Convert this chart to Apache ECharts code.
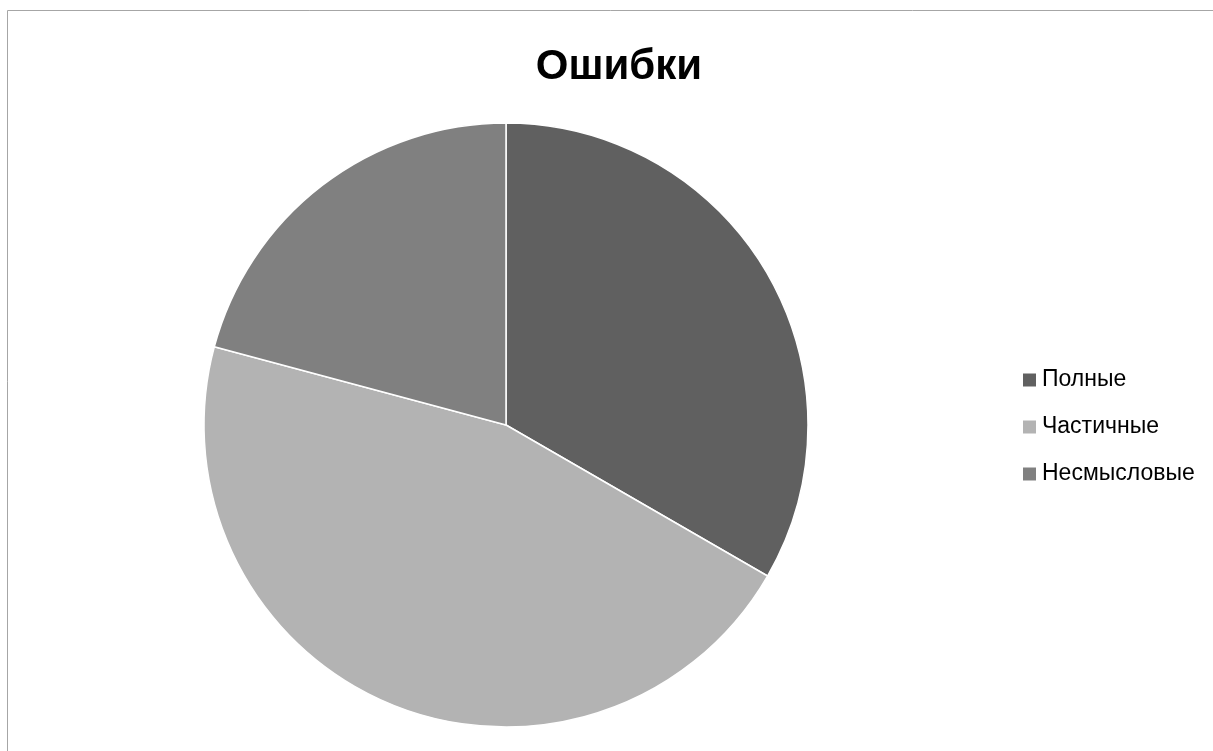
<!DOCTYPE html>
<html lang="ru">
<head>
<meta charset="UTF-8">
<title>Ошибки</title>
<script src="https://cdn.jsdelivr.net/npm/echarts@6/dist/echarts.min.js"></script>
<style>
    html, body { margin: 0; padding: 0; background: #fff; }
    #chart { width: 1213px; height: 751px; }
</style>
</head>
<body>
<div id="chart"></div>
<script>
    const categories = ['Полные', 'Частичные', 'Несмысловые'];
    const values = [8, 11, 5];
    const colors = ['#606060', '#b3b3b3', '#808080'];

    const myChart = echarts.init(document.getElementById('chart'));

    const option = {
        animation: false,
        color: colors,
        title: {
            text: 'Ошибки',
            left: 614,
            top: 41,
            textAlign: 'center',
            textStyle: {
                fontFamily: 'Liberation Sans',
                fontWeight: 'bold',
                fontSize: 42,
                color: '#000'
            }
        },
        legend: {
            orient: 'vertical',
            left: 1018,
            top: 363,
            itemWidth: 13,
            itemHeight: 13,
            itemGap: 23,
            icon: 'rect',
            itemStyle: { borderWidth: 0 },
            textStyle: {
                fontFamily: 'Liberation Sans',
                fontSize: 23,
                lineHeight: 24,
                color: '#000',
                padding: [0, 0, 0, 1]
            },
            data: categories
        },
        graphic: [{
            type: 'rect',
            shape: { x: 7.5, y: 10.5, width: 1400, height: 900 },
            style: { fill: 'none', stroke: '#a6a6a6', lineWidth: 1 }
        }],
        series: [{
            type: 'pie',
            center: [506, 425],
            radius: 302,
            startAngle: 90,
            clockwise: true,
            label: { show: false },
            labelLine: { show: false },
            emphasis: { disabled: true },
            itemStyle: { borderColor: '#fff', borderWidth: 1.5 },
            data: categories.map((name, i) => ({ name: name, value: values[i] }))
        }]
    };

    myChart.setOption(option);
</script>
</body>
</html>
